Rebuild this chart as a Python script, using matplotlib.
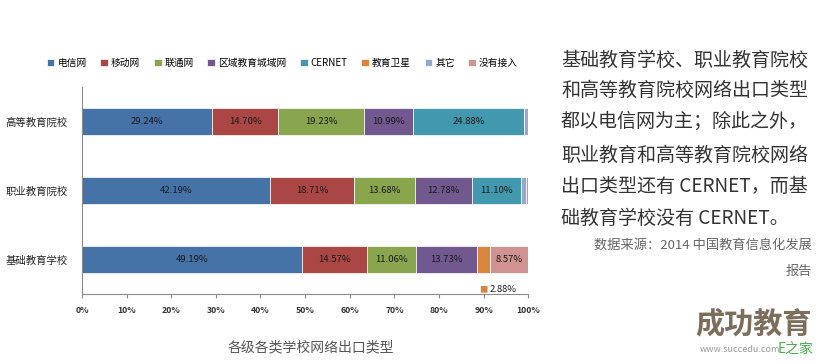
import numpy as np
import matplotlib.pyplot as plt

plt.rcParams['font.family'] = ['Noto Sans CJK SC', 'DejaVu Sans']

categories = ['基础教育学校', '职业教育院校', '高等教育院校']
series_names = ['电信网', '移动网', '联通网', '区域教育城域网', 'CERNET', '教育卫星', '其它', '没有接入']
# values per series, order follows categories (bottom to top)
dianxin = [49.19, 42.19, 29.24]
yidong = [14.57, 18.71, 14.70]
liantong = [11.06, 13.68, 19.23]
quyu = [13.73, 12.78, 10.99]
cernet = [0.0, 11.10, 24.88]
weixing = [2.88, 0.0, 0.0]
qita = [0.0, 1.00, 0.96]
meiyou = [8.57, 0.54, 0.0]
series = [dianxin, yidong, liantong, quyu, cernet, weixing, qita, meiyou]
colors = ['#4572A7', '#AA4643', '#89A54E', '#71588F', '#4198AF', '#DB843D', '#93A9CF', '#D19392']
xticks = [0, 10, 20, 30, 40, 50, 60, 70, 80, 90, 100]

fig = plt.figure(figsize=(8.28, 3.62), dpi=100)
ax = fig.add_axes([0.099, 0.188, 0.539, 0.572])

y = np.arange(len(categories))
left = np.zeros(len(categories))
handles = []
for name, vals, c in zip(series_names, series, colors):
    vals = np.array(vals)
    b = ax.barh(y, vals, left=left, height=0.4, color=c, edgecolor='white', linewidth=0.5, label=name)
    handles.append(b)
    for i, v in enumerate(vals):
        if v >= 5:
            ax.text(left[i] + v / 2, y[i], f'{v:.2f}%', ha='center', va='center',
                    fontsize=6.8, color='#1a1a1a')
    left += vals

# small segment label placed below the bar
i0 = 0
x_sat = sum(s[i0] for s in series[:5]) + weixing[i0] / 2
ax.annotate('■', (x_sat, y[i0] - 0.2), xytext=(0, -12), textcoords='offset points',
            ha='center', va='center', fontsize=6, color='#DB843D')
ax.annotate('2.88%', (x_sat, y[i0] - 0.2), xytext=(4, -12), textcoords='offset points',
            ha='left', va='center', fontsize=6.8, color='#1a1a1a')

ax.set_xlim(0, 100)
ax.set_ylim(-0.5, 2.5)
ax.set_xticks(xticks)
ax.set_xticklabels([f'{t}%' for t in xticks], fontsize=6.3, fontweight='bold', color='#333333')
ax.set_yticks(y)
ax.set_yticklabels(categories, fontsize=7.5, color='#222222')
for s in ['top', 'right']:
    ax.spines[s].set_visible(False)
for s in ['left', 'bottom']:
    ax.spines[s].set_color('#8c8c8c')
    ax.spines[s].set_linewidth(0.8)
ax.tick_params(axis='x', length=3, color='#8c8c8c', pad=6)
ax.tick_params(axis='y', length=0, pad=10)

fig.legend(handles=handles, loc='center', bbox_to_anchor=(0.341, 0.826), ncol=8,
           frameon=False, fontsize=7, handlelength=0.8, handleheight=0.8,
           handletextpad=0.3, columnspacing=1.4)

fig.text(0.375, 0.04, '各级各类学校网络出口类型', ha='center', va='center',
         fontsize=10, color='#555555')

lines = ['基础教育学校、职业教育院校', '和高等教育院校网络出口类型', '都以电信网为主；除此之外，',
         '职业教育和高等教育院校网络', '出口类型还有 CERNET，而基', '础教育学校没有 CERNET。']
ys = [60, 90, 121, 155, 187, 218]
for t, yy in zip(lines, ys):
    fig.text(561 / 828, 1 - yy / 362, t, ha='left', va='center', fontsize=13.7, color='#333333')
fig.text(812 / 828, 1 - 245 / 362, '数据来源：2014 中国教育信息化发展', ha='right', va='center',
         fontsize=9.5, color='#666666')
fig.text(812 / 828, 1 - 271 / 362, '报告', ha='right', va='center', fontsize=9.5, color='#666666')

# watermark
fig.text(695 / 828, 1 - 323 / 362, '成功教育', ha='left', va='center', fontsize=21,
         fontweight='bold', color='#7d6e5c')
fig.text(700 / 828, 1 - 350 / 362, 'www.succedu.com', ha='left', va='center', fontsize=6.5,
         color='#999999')
fig.text(778 / 828, 1 - 350 / 362, 'E之家', ha='left', va='center', fontsize=10,
         color='#4caf50')

fig.savefig('out.png', dpi=100)
